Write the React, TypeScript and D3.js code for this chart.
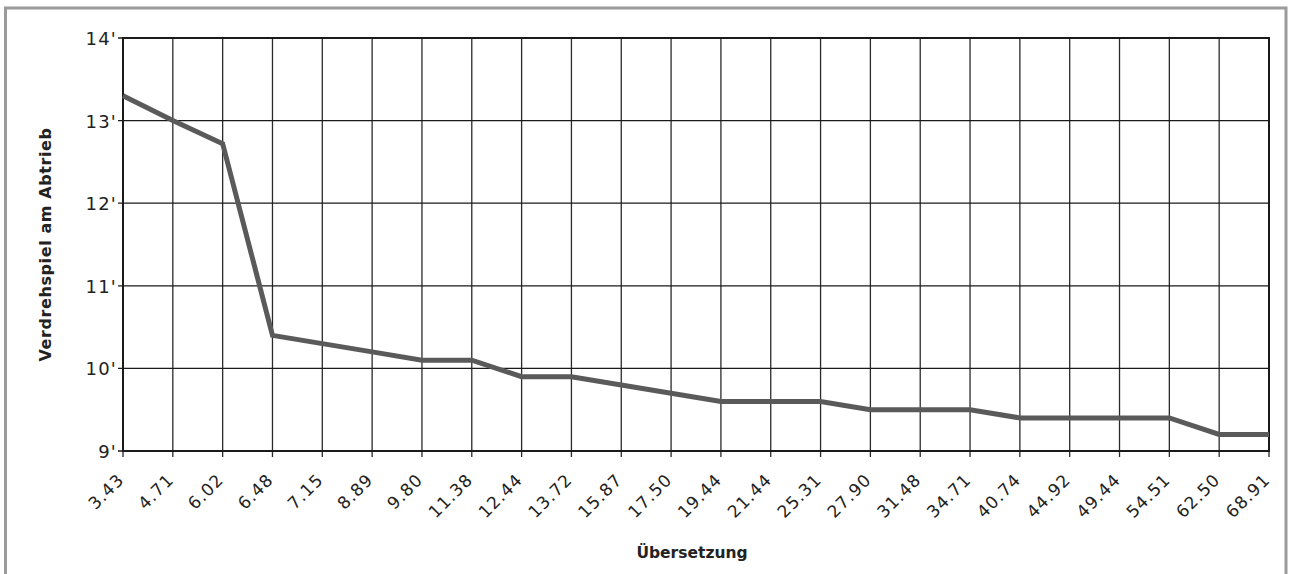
import React, { useEffect, useRef } from "react";
import * as d3 from "d3";

const categories = ["3.43","4.71","6.02","6.48","7.15","8.89","9.80","11.38","12.44","13.72","15.87","17.50","19.44","21.44","25.31","27.90","31.48","34.71","40.74","44.92","49.44","54.51","62.50","68.91"];
const values = [13.3,13.0,12.72,10.4,10.3,10.2,10.1,10.1,9.9,9.9,9.8,9.7,9.6,9.6,9.6,9.5,9.5,9.5,9.4,9.4,9.4,9.4,9.2,9.2];
const yTicks = [9,10,11,12,13,14];
const xTitle = "Übersetzung";
const yTitle = "Verdrehspiel am Abtrieb";

const W = 1289, H = 574;
const M = { left: 123, right: 1269, top: 38, bottom: 451 };

export default function App() {
  const ref = useRef<SVGSVGElement>(null);
  useEffect(() => {
    const svg = d3.select(ref.current);
    svg.selectAll("*").remove();
    // frame
    svg.append("rect").attr("x", 5.5).attr("y", 8).attr("width", 1280.5).attr("height", 700)
      .attr("fill", "white").attr("stroke", "#9b9b9b").attr("stroke-width", 3);

    const x = d3.scalePoint<string>().domain(categories).range([M.left, M.right]);
    const y = d3.scaleLinear().domain([9, 14]).range([M.bottom, M.top]);

    const g = svg.append("g");
    g.selectAll("line.vg").data(categories).enter().append("line")
      .attr("x1", d => x(d)!).attr("x2", d => x(d)!)
      .attr("y1", M.top).attr("y2", M.bottom + 6)
      .attr("stroke", "#2a2a2a").attr("stroke-width", 1.3);
    g.selectAll("line.hg").data(yTicks).enter().append("line")
      .attr("x1", M.left - 5).attr("x2", M.right)
      .attr("y1", d => y(d)).attr("y2", d => y(d))
      .attr("stroke", "#1a1a1a").attr("stroke-width", 1.3);
    g.append("rect").attr("x", M.left).attr("y", M.top)
      .attr("width", M.right - M.left).attr("height", M.bottom - M.top)
      .attr("fill", "none").attr("stroke", "#1a1a1a").attr("stroke-width", 2);

    g.selectAll("text.yl").data(yTicks).enter().append("text")
      .attr("x", M.left - 6).attr("y", d => y(d) + 7)
      .attr("text-anchor", "end")
      .attr("font-family", "DejaVu Sans").attr("font-size", 18).attr("letter-spacing", 1.2)
      .attr("fill", "#222")
      .text(d => `${d}'`);
    g.selectAll("text.xl").data(categories).enter().append("text")
      .attr("transform", d => `translate(${x(d)! + 2},${M.bottom + 30}) rotate(-45)`)
      .attr("text-anchor", "end")
      .attr("font-family", "DejaVu Sans").attr("font-size", 17).attr("letter-spacing", 1)
      .attr("fill", "#222")
      .text(d => d);

    const line = d3.line<number>().x((_, i) => x(categories[i])!).y(d => y(d));
    g.append("path").datum(values).attr("d", line)
      .attr("fill", "none").attr("stroke", "#5a5a5a").attr("stroke-width", 5)
      .attr("stroke-linejoin", "miter");

    svg.append("text").attr("x", (M.left + M.right) / 2 - 4).attr("y", 558)
      .attr("text-anchor", "middle").attr("font-family", "DejaVu Sans").attr("font-weight", "bold")
      .attr("font-size", 15.5).attr("fill", "#222").text(xTitle);
    svg.append("text").attr("transform", `translate(51,${(M.top + M.bottom) / 2}) rotate(-90)`)
      .attr("text-anchor", "middle").attr("font-family", "DejaVu Sans").attr("font-weight", "bold")
      .attr("font-size", 16).attr("letter-spacing", 0.6).attr("fill", "#222").text(yTitle);
  }, []);
  return (
    <svg ref={ref} width={W} height={H} style={{ position: "absolute", left: 0, top: 0, background: "white" }} />
  );
}
